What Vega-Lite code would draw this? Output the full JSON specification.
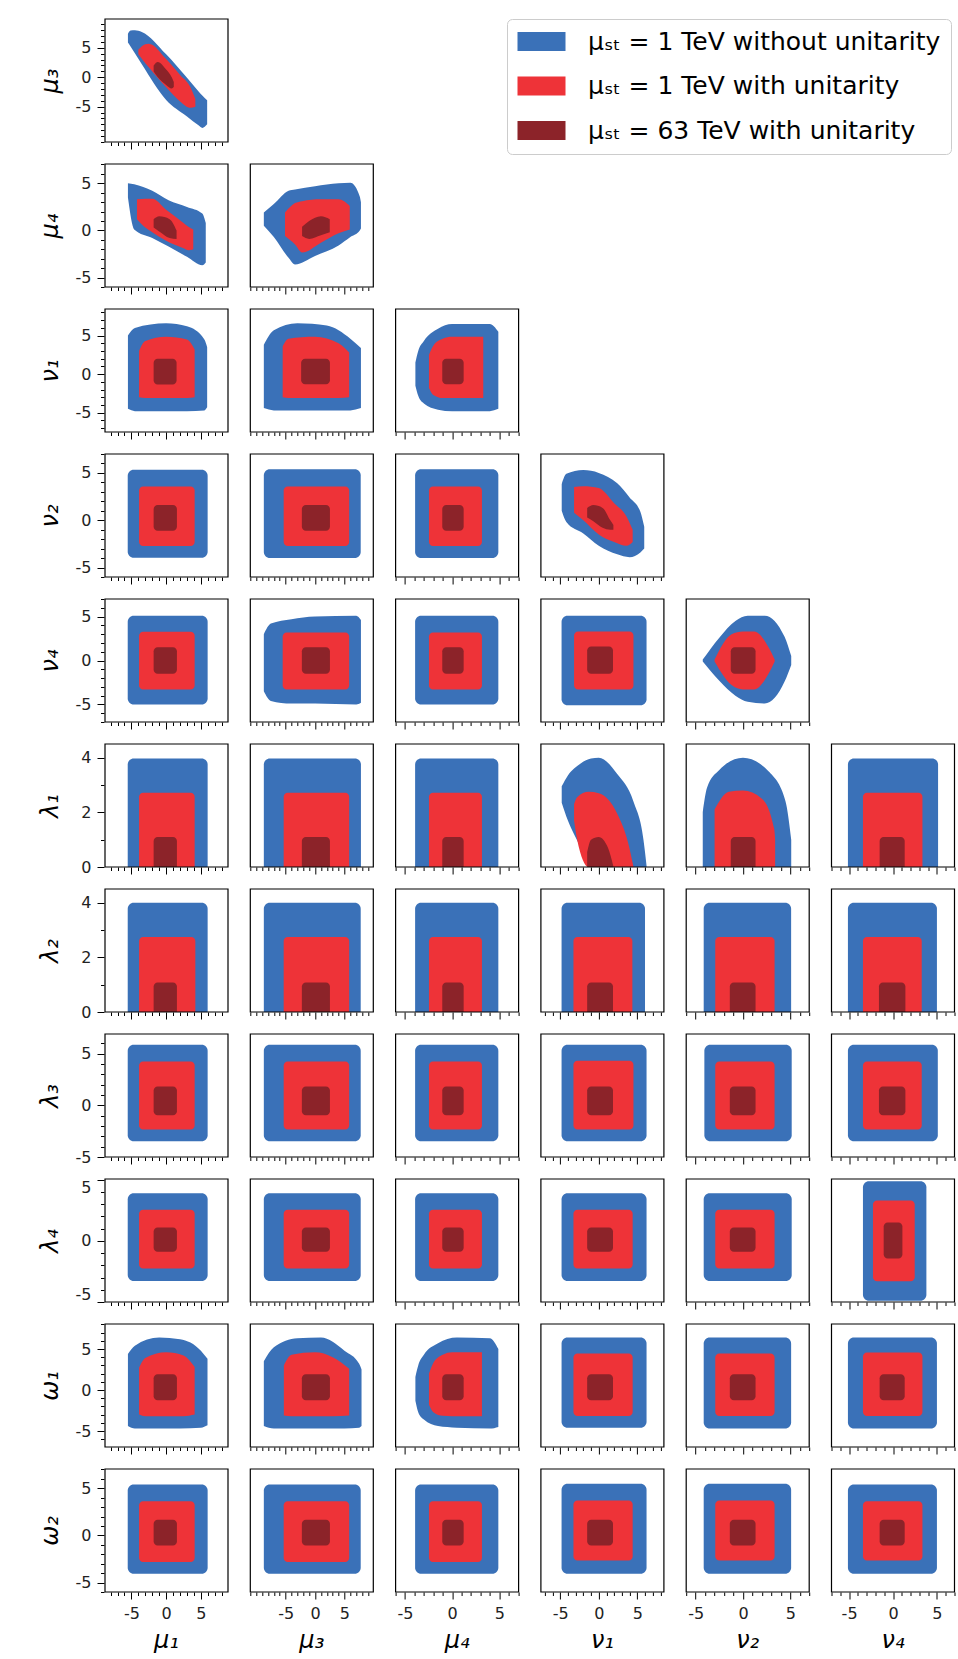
{
"$schema":"https://vega.github.io/schema/vega-lite/v6.json",
"background":"white",
"padding":{"left":38,"top":18,"right":2,"bottom":2},
"spacing":13,
"config":{
 "view":{"stroke":null},
 "font":"DejaVu Sans",
 "range":{"category":["#3a71b8","#ee3338","#8c2329"]},
 "area":{"interpolate":"monotone","opacity":1},
 "rect":{"opacity":1},
 "axis":{"domain":false,"grid":false,"tickColor":"#000","tickWidth":1,"labelColor":"#222","labelFont":"DejaVu Sans","labelPadding":6,"labelOverlap":false,"labelFlush":false,"titleFont":"DejaVu Sans","titleFontSize":24,"titleFontStyle":"italic","titleFontWeight":"normal","titleColor":"#000"},
 "header":{"labelFont":"DejaVu Sans","labelFontSize":24,"labelFontStyle":"italic","labelColor":"#000"}
},
"datasets":{
"vars":[
{"v":"μ₁","a":-8.8,"b":8.9},{"v":"μ₃","a":-11,"b":9.9},{"v":"μ₄","a":-6,"b":7.05},{"v":"ν₁","a":-7.5,"b":8.45},{"v":"ν₂","a":-6,"b":7},{"v":"ν₄","a":-7,"b":7},
{"v":"λ₁","a":0,"b":4.5},{"v":"λ₂","a":0,"b":4.5},{"v":"λ₃","a":-5,"b":6.9},{"v":"λ₄","a":-5,"b":5.05},{"v":"ω₁","a":-6.95,"b":8.05},{"v":"ω₂","a":-6,"b":7.05}
],
"d":[
{"k":"A","r":"μ₃","c":"μ₁","l":0,"x":-5.5,"lo":5.9,"hi":7.4},
{"k":"A","r":"μ₃","c":"μ₁","l":0,"x":-5.1,"lo":5.2,"hi":7.95},
{"k":"A","r":"μ₃","c":"μ₁","l":0,"x":-4.5,"lo":4.1,"hi":8},
{"k":"A","r":"μ₃","c":"μ₁","l":0,"x":-3.5,"lo":2.2,"hi":7.7},
{"k":"A","r":"μ₃","c":"μ₁","l":0,"x":0,"lo":-3.85,"hi":3.9},
{"k":"A","r":"μ₃","c":"μ₁","l":0,"x":3,"lo":-6.65,"hi":-0.1},
{"k":"A","r":"μ₃","c":"μ₁","l":0,"x":4.7,"lo":-8.2,"hi":-2.45},
{"k":"A","r":"μ₃","c":"μ₁","l":0,"x":5.2,"lo":-8.6,"hi":-3.1},
{"k":"A","r":"μ₃","c":"μ₁","l":0,"x":5.9,"lo":-8,"hi":-3.9},
{"k":"A","r":"μ₃","c":"μ₁","l":1,"x":-4,"lo":3.9,"hi":4.7},
{"k":"A","r":"μ₃","c":"μ₁","l":1,"x":-3,"lo":2.4,"hi":5.6},
{"k":"A","r":"μ₃","c":"μ₁","l":1,"x":-2.5,"lo":1.7,"hi":5.7},
{"k":"A","r":"μ₃","c":"μ₁","l":1,"x":0,"lo":-1.7,"hi":3.1},
{"k":"A","r":"μ₃","c":"μ₁","l":1,"x":2,"lo":-4.1,"hi":0.4},
{"k":"A","r":"μ₃","c":"μ₁","l":1,"x":3.5,"lo":-5.2,"hi":-1.7},
{"k":"A","r":"μ₃","c":"μ₁","l":1,"x":4.2,"lo":-5,"hi":-3.7},
{"k":"A","r":"μ₃","c":"μ₁","l":2,"x":-1.8,"lo":1,"hi":2},
{"k":"A","r":"μ₃","c":"μ₁","l":2,"x":-1.2,"lo":0,"hi":2.6},
{"k":"A","r":"μ₃","c":"μ₁","l":2,"x":0,"lo":-1.3,"hi":1.3},
{"k":"A","r":"μ₃","c":"μ₁","l":2,"x":0.8,"lo":-1.9,"hi":0},
{"k":"A","r":"μ₃","c":"μ₁","l":2,"x":1.1,"lo":-1.6,"hi":-0.8},

{"k":"A","r":"μ₄","c":"μ₁","l":0,"x":-5.5,"lo":3.5,"hi":5},
{"k":"A","r":"μ₄","c":"μ₁","l":0,"x":-4.6,"lo":0.1,"hi":4.9},
{"k":"A","r":"μ₄","c":"μ₁","l":0,"x":-2,"lo":-0.8,"hi":4.2},
{"k":"A","r":"μ₄","c":"μ₁","l":0,"x":0.35,"lo":-1.7,"hi":3.2},
{"k":"A","r":"μ₄","c":"μ₁","l":0,"x":3,"lo":-2.8,"hi":2.5},
{"k":"A","r":"μ₄","c":"μ₁","l":0,"x":5.2,"lo":-3.7,"hi":1.8},
{"k":"A","r":"μ₄","c":"μ₁","l":0,"x":5.7,"lo":-3.4,"hi":0.8},
{"k":"A","r":"μ₄","c":"μ₁","l":1,"x":-4.2,"lo":1.2,"hi":3.3},
{"k":"A","r":"μ₄","c":"μ₁","l":1,"x":-3,"lo":0.3,"hi":3.36},
{"k":"A","r":"μ₄","c":"μ₁","l":1,"x":-2,"lo":-0.2,"hi":3.36},
{"k":"A","r":"μ₄","c":"μ₁","l":1,"x":0,"lo":-1.1,"hi":2.2},
{"k":"A","r":"μ₄","c":"μ₁","l":1,"x":2.5,"lo":-1.9,"hi":0.8},
{"k":"A","r":"μ₄","c":"μ₁","l":1,"x":3.2,"lo":-2.1,"hi":0.4},
{"k":"A","r":"μ₄","c":"μ₁","l":1,"x":3.9,"lo":-2,"hi":0.1},
{"k":"A","r":"μ₄","c":"μ₁","l":2,"x":-1.8,"lo":0.3,"hi":1.2},
{"k":"A","r":"μ₄","c":"μ₁","l":2,"x":-1,"lo":-0.1,"hi":1.5},
{"k":"A","r":"μ₄","c":"μ₁","l":2,"x":0.5,"lo":-0.8,"hi":1.2},
{"k":"A","r":"μ₄","c":"μ₁","l":2,"x":1.5,"lo":-0.9,"hi":0},
{"k":"A","r":"μ₄","c":"μ₃","l":0,"x":-8.7,"lo":0.5,"hi":1.9},
{"k":"A","r":"μ₄","c":"μ₃","l":0,"x":-7,"lo":-0.7,"hi":2.8},
{"k":"A","r":"μ₄","c":"μ₃","l":0,"x":-4.5,"lo":-2.9,"hi":4.2},
{"k":"A","r":"μ₄","c":"μ₃","l":0,"x":-3.4,"lo":-3.6,"hi":4.35},
{"k":"A","r":"μ₄","c":"μ₃","l":0,"x":0,"lo":-2.7,"hi":4.7},
{"k":"A","r":"μ₄","c":"μ₃","l":0,"x":4,"lo":-1.6,"hi":5},
{"k":"A","r":"μ₄","c":"μ₃","l":0,"x":6,"lo":-0.7,"hi":5.05},
{"k":"A","r":"μ₄","c":"μ₃","l":0,"x":7.6,"lo":0,"hi":3.6},
{"k":"A","r":"μ₄","c":"μ₃","l":0,"x":7.8,"lo":0.2,"hi":3},
{"k":"A","r":"μ₄","c":"μ₃","l":1,"x":-5.1,"lo":-0.6,"hi":1.9},
{"k":"A","r":"μ₄","c":"μ₃","l":1,"x":-3.4,"lo":-1.5,"hi":2.9},
{"k":"A","r":"μ₄","c":"μ₃","l":1,"x":-2.2,"lo":-2.35,"hi":3.1},
{"k":"A","r":"μ₄","c":"μ₃","l":1,"x":1,"lo":-1.3,"hi":3.3},
{"k":"A","r":"μ₄","c":"μ₃","l":1,"x":4,"lo":-0.3,"hi":3.3},
{"k":"A","r":"μ₄","c":"μ₃","l":1,"x":5.9,"lo":0.1,"hi":2.6},
{"k":"A","r":"μ₄","c":"μ₃","l":2,"x":-2.2,"lo":-0.6,"hi":0.4},
{"k":"A","r":"μ₄","c":"μ₃","l":2,"x":-1,"lo":-0.9,"hi":1},
{"k":"A","r":"μ₄","c":"μ₃","l":2,"x":1,"lo":-0.5,"hi":1.5},
{"k":"A","r":"μ₄","c":"μ₃","l":2,"x":2.5,"lo":-0.2,"hi":1.2},

{"k":"A","r":"ν₁","c":"μ₁","l":0,"x":-5.5,"lo":-4.5,"hi":5},
{"k":"A","r":"ν₁","c":"μ₁","l":0,"x":-4.5,"lo":-4.8,"hi":6},
{"k":"A","r":"ν₁","c":"μ₁","l":0,"x":0,"lo":-4.8,"hi":6.6},
{"k":"A","r":"ν₁","c":"μ₁","l":0,"x":3,"lo":-4.8,"hi":6.2},
{"k":"A","r":"ν₁","c":"μ₁","l":0,"x":5.5,"lo":-4.7,"hi":4.5},
{"k":"A","r":"ν₁","c":"μ₁","l":0,"x":5.9,"lo":-4.3,"hi":3.5},
{"k":"A","r":"ν₁","c":"μ₁","l":1,"x":-3.9,"lo":-3,"hi":3},
{"k":"A","r":"ν₁","c":"μ₁","l":1,"x":-3,"lo":-3.1,"hi":4.3},
{"k":"A","r":"ν₁","c":"μ₁","l":1,"x":0,"lo":-3.1,"hi":4.85},
{"k":"A","r":"ν₁","c":"μ₁","l":1,"x":3,"lo":-3.1,"hi":4.5},
{"k":"A","r":"ν₁","c":"μ₁","l":1,"x":4.1,"lo":-3,"hi":3.2},
{"k":"R","r":"ν₁","c":"μ₁","l":2,"x0":-1.8,"x1":1.5,"y0":-1.35,"y1":2},
{"k":"A","r":"ν₁","c":"μ₃","l":0,"x":-8.7,"lo":-4.4,"hi":3.8},
{"k":"A","r":"ν₁","c":"μ₃","l":0,"x":-7,"lo":-4.7,"hi":5.7},
{"k":"A","r":"ν₁","c":"μ₃","l":0,"x":-3,"lo":-4.7,"hi":6.6},
{"k":"A","r":"ν₁","c":"μ₃","l":0,"x":2,"lo":-4.7,"hi":6.3},
{"k":"A","r":"ν₁","c":"μ₃","l":0,"x":6,"lo":-4.7,"hi":4.6},
{"k":"A","r":"ν₁","c":"μ₃","l":0,"x":7.8,"lo":-4.4,"hi":3.4},
{"k":"A","r":"ν₁","c":"μ₃","l":1,"x":-5.5,"lo":-3,"hi":3.6},
{"k":"A","r":"ν₁","c":"μ₃","l":1,"x":-4.5,"lo":-3.1,"hi":4.6},
{"k":"A","r":"ν₁","c":"μ₃","l":1,"x":0,"lo":-3.1,"hi":4.85},
{"k":"A","r":"ν₁","c":"μ₃","l":1,"x":4,"lo":-3.1,"hi":4},
{"k":"A","r":"ν₁","c":"μ₃","l":1,"x":5.8,"lo":-3,"hi":2.8},
{"k":"R","r":"ν₁","c":"μ₃","l":2,"x0":-2.36,"x1":2.53,"y0":-1.3,"y1":2},
{"k":"A","r":"ν₁","c":"μ₄","l":0,"x":-3.9,"lo":-1.5,"hi":1.5},
{"k":"A","r":"ν₁","c":"μ₄","l":0,"x":-3.6,"lo":-2.8,"hi":3},
{"k":"A","r":"ν₁","c":"μ₄","l":0,"x":-3,"lo":-3.8,"hi":4.3},
{"k":"A","r":"ν₁","c":"μ₄","l":0,"x":-1.5,"lo":-4.6,"hi":5.9},
{"k":"A","r":"ν₁","c":"μ₄","l":0,"x":0,"lo":-4.8,"hi":6.5},
{"k":"A","r":"ν₁","c":"μ₄","l":0,"x":4,"lo":-4.8,"hi":6.5},
{"k":"A","r":"ν₁","c":"μ₄","l":0,"x":4.9,"lo":-4.5,"hi":5.5},
{"k":"A","r":"ν₁","c":"μ₄","l":1,"x":-2.46,"lo":-1.8,"hi":2.5},
{"k":"A","r":"ν₁","c":"μ₄","l":1,"x":-2,"lo":-2.7,"hi":3.7},
{"k":"A","r":"ν₁","c":"μ₄","l":1,"x":-1,"lo":-3.1,"hi":4.6},
{"k":"A","r":"ν₁","c":"μ₄","l":1,"x":0,"lo":-3.1,"hi":4.85},
{"k":"A","r":"ν₁","c":"μ₄","l":1,"x":3.3,"lo":-3.1,"hi":4.85},
{"k":"R","r":"ν₁","c":"μ₄","l":2,"x0":-1.05,"x1":1.22,"y0":-1.3,"y1":2},

{"k":"R","r":"ν₂","c":"μ₁","l":0,"x0":-5.53,"x1":5.97,"y0":-3.96,"y1":5.33},
{"k":"R","r":"ν₂","c":"μ₁","l":1,"x0":-3.9,"x1":4.1,"y0":-2.72,"y1":3.56},
{"k":"R","r":"ν₂","c":"μ₁","l":2,"x0":-1.8,"x1":1.55,"y0":-1.1,"y1":1.62},
{"k":"R","r":"ν₂","c":"μ₃","l":0,"x0":-8.7,"x1":7.76,"y0":-4,"y1":5.4},
{"k":"R","r":"ν₂","c":"μ₃","l":1,"x0":-5.33,"x1":5.8,"y0":-2.72,"y1":3.56},
{"k":"R","r":"ν₂","c":"μ₃","l":2,"x0":-2.24,"x1":2.53,"y0":-1.1,"y1":1.62},
{"k":"R","r":"ν₂","c":"μ₄","l":0,"x0":-3.93,"x1":4.9,"y0":-4,"y1":5.4},
{"k":"R","r":"ν₂","c":"μ₄","l":1,"x0":-2.46,"x1":3.16,"y0":-2.72,"y1":3.56},
{"k":"R","r":"ν₂","c":"μ₄","l":2,"x0":-1.05,"x1":1.22,"y0":-1.1,"y1":1.62},
{"k":"A","r":"ν₂","c":"ν₁","l":0,"x":-4.8,"lo":1,"hi":3.8},
{"k":"A","r":"ν₂","c":"ν₁","l":0,"x":-4.2,"lo":-0.2,"hi":4.9},
{"k":"A","r":"ν₂","c":"ν₁","l":0,"x":-2,"lo":-1.4,"hi":5.3},
{"k":"A","r":"ν₂","c":"ν₁","l":0,"x":0,"lo":-2.7,"hi":5},
{"k":"A","r":"ν₂","c":"ν₁","l":0,"x":2.4,"lo":-3.6,"hi":3.9},
{"k":"A","r":"ν₂","c":"ν₁","l":0,"x":4,"lo":-3.9,"hi":2.4},
{"k":"A","r":"ν₂","c":"ν₁","l":0,"x":5.4,"lo":-3.4,"hi":0.9},
{"k":"A","r":"ν₂","c":"ν₁","l":0,"x":5.9,"lo":-3,"hi":-0.7},
{"k":"A","r":"ν₂","c":"ν₁","l":1,"x":-3.2,"lo":0.8,"hi":3.5},
{"k":"A","r":"ν₂","c":"ν₁","l":1,"x":-2,"lo":0,"hi":3.6},
{"k":"A","r":"ν₂","c":"ν₁","l":1,"x":0,"lo":-1.5,"hi":3.4},
{"k":"A","r":"ν₂","c":"ν₁","l":1,"x":2,"lo":-2.3,"hi":1.8},
{"k":"A","r":"ν₂","c":"ν₁","l":1,"x":3.6,"lo":-2.7,"hi":0.4},
{"k":"A","r":"ν₂","c":"ν₁","l":1,"x":4.4,"lo":-2.3,"hi":-1},
{"k":"A","r":"ν₂","c":"ν₁","l":2,"x":-1.5,"lo":0.3,"hi":1.3},
{"k":"A","r":"ν₂","c":"ν₁","l":2,"x":-0.7,"lo":-0.1,"hi":1.6},
{"k":"A","r":"ν₂","c":"ν₁","l":2,"x":0.5,"lo":-0.8,"hi":1.3},
{"k":"A","r":"ν₂","c":"ν₁","l":2,"x":1.5,"lo":-1,"hi":0},
{"k":"A","r":"ν₂","c":"ν₁","l":2,"x":1.9,"lo":-1,"hi":-0.5},

{"k":"R","r":"ν₄","c":"μ₁","l":0,"x0":-5.53,"x1":5.97,"y0":-5,"y1":5.1},
{"k":"R","r":"ν₄","c":"μ₁","l":1,"x0":-3.9,"x1":4.1,"y0":-3.3,"y1":3.28},
{"k":"R","r":"ν₄","c":"μ₁","l":2,"x0":-1.8,"x1":1.55,"y0":-1.5,"y1":1.5},
{"k":"A","r":"ν₄","c":"μ₃","l":0,"x":-8.7,"lo":-3.5,"hi":3},
{"k":"A","r":"ν₄","c":"μ₃","l":0,"x":-7.5,"lo":-4.6,"hi":4.2},
{"k":"A","r":"ν₄","c":"μ₃","l":0,"x":-4,"lo":-4.9,"hi":4.7},
{"k":"A","r":"ν₄","c":"μ₃","l":0,"x":0,"lo":-4.9,"hi":5},
{"k":"A","r":"ν₄","c":"μ₃","l":0,"x":7,"lo":-5,"hi":5.1},
{"k":"A","r":"ν₄","c":"μ₃","l":0,"x":7.8,"lo":-4.8,"hi":4.6},
{"k":"R","r":"ν₄","c":"μ₃","l":1,"x0":-5.5,"x1":5.8,"y0":-3.3,"y1":3.2},
{"k":"R","r":"ν₄","c":"μ₃","l":2,"x0":-2.24,"x1":2.53,"y0":-1.5,"y1":1.5},
{"k":"R","r":"ν₄","c":"μ₄","l":0,"x0":-3.93,"x1":4.9,"y0":-5,"y1":5.1},
{"k":"R","r":"ν₄","c":"μ₄","l":1,"x0":-2.46,"x1":3.16,"y0":-3.3,"y1":3.2},
{"k":"R","r":"ν₄","c":"μ₄","l":2,"x0":-1.05,"x1":1.22,"y0":-1.5,"y1":1.5},
{"k":"R","r":"ν₄","c":"ν₁","l":0,"x0":-4.82,"x1":6.2,"y0":-5.1,"y1":5.1},
{"k":"R","r":"ν₄","c":"ν₁","l":1,"x0":-3.2,"x1":4.5,"y0":-3.3,"y1":3.3},
{"k":"R","r":"ν₄","c":"ν₁","l":2,"x0":-1.5,"x1":1.85,"y0":-1.5,"y1":1.6},
{"k":"A","r":"ν₄","c":"ν₂","l":0,"x":-4.25,"lo":-0.1,"hi":0.1},
{"k":"A","r":"ν₄","c":"ν₂","l":0,"x":-2.5,"lo":-2.3,"hi":2.6},
{"k":"A","r":"ν₄","c":"ν₂","l":0,"x":-0.8,"lo":-4,"hi":4.5},
{"k":"A","r":"ν₄","c":"ν₂","l":0,"x":0.5,"lo":-4.7,"hi":5.1},
{"k":"A","r":"ν₄","c":"ν₂","l":0,"x":2.3,"lo":-4.9,"hi":5.1},
{"k":"A","r":"ν₄","c":"ν₂","l":0,"x":4.4,"lo":-2.4,"hi":2.7},
{"k":"A","r":"ν₄","c":"ν₂","l":0,"x":5.1,"lo":-0.5,"hi":0.5},
{"k":"A","r":"ν₄","c":"ν₂","l":1,"x":-3,"lo":-0.1,"hi":0.1},
{"k":"A","r":"ν₄","c":"ν₂","l":1,"x":-1.2,"lo":-2.8,"hi":3},
{"k":"A","r":"ν₄","c":"ν₂","l":1,"x":0,"lo":-3.3,"hi":3.3},
{"k":"A","r":"ν₄","c":"ν₂","l":1,"x":1.2,"lo":-3.3,"hi":3.3},
{"k":"A","r":"ν₄","c":"ν₂","l":1,"x":2.7,"lo":-1.5,"hi":1.5},
{"k":"A","r":"ν₄","c":"ν₂","l":1,"x":3.35,"lo":-0.1,"hi":0.1},
{"k":"R","r":"ν₄","c":"ν₂","l":2,"x0":-1.29,"x1":1.33,"y0":-1.5,"y1":1.5},

{"k":"R","r":"λ₁","c":"μ₁","l":0,"x0":-5.53,"x1":5.97,"y0":0,"y1":3.97},
{"k":"R","r":"λ₁","c":"μ₁","l":1,"x0":-3.9,"x1":4.1,"y0":0,"y1":2.72},
{"k":"R","r":"λ₁","c":"μ₁","l":2,"x0":-1.8,"x1":1.55,"y0":0,"y1":1.1},
{"k":"R","r":"λ₁","c":"μ₃","l":0,"x0":-8.7,"x1":7.8,"y0":0,"y1":3.97},
{"k":"R","r":"λ₁","c":"μ₃","l":1,"x0":-5.33,"x1":5.8,"y0":0,"y1":2.72},
{"k":"R","r":"λ₁","c":"μ₃","l":2,"x0":-2.24,"x1":2.53,"y0":0,"y1":1.1},
{"k":"R","r":"λ₁","c":"μ₄","l":0,"x0":-3.93,"x1":4.9,"y0":0,"y1":3.97},
{"k":"R","r":"λ₁","c":"μ₄","l":1,"x0":-2.46,"x1":3.16,"y0":0,"y1":2.72},
{"k":"R","r":"λ₁","c":"μ₄","l":2,"x0":-1.05,"x1":1.22,"y0":0,"y1":1.1},
{"k":"A","r":"λ₁","c":"ν₁","l":0,"x":-4.8,"lo":2.35,"hi":2.95},
{"k":"A","r":"λ₁","c":"ν₁","l":0,"x":-4,"lo":1.7,"hi":3.35},
{"k":"A","r":"λ₁","c":"ν₁","l":0,"x":-3.2,"lo":1.2,"hi":3.6},
{"k":"A","r":"λ₁","c":"ν₁","l":0,"x":-2.3,"lo":0.7,"hi":3.8},
{"k":"A","r":"λ₁","c":"ν₁","l":0,"x":-1,"lo":0,"hi":3.97},
{"k":"A","r":"λ₁","c":"ν₁","l":0,"x":0,"lo":0,"hi":4},
{"k":"A","r":"λ₁","c":"ν₁","l":0,"x":2.4,"lo":0,"hi":3.4},
{"k":"A","r":"λ₁","c":"ν₁","l":0,"x":4.5,"lo":0,"hi":2.4},
{"k":"A","r":"λ₁","c":"ν₁","l":0,"x":5.8,"lo":0,"hi":1},
{"k":"A","r":"λ₁","c":"ν₁","l":0,"x":6.2,"lo":0,"hi":0.05},
{"k":"A","r":"λ₁","c":"ν₁","l":1,"x":-3.2,"lo":1.7,"hi":2.3},
{"k":"A","r":"λ₁","c":"ν₁","l":1,"x":-2.8,"lo":1,"hi":2.55},
{"k":"A","r":"λ₁","c":"ν₁","l":1,"x":-1.3,"lo":0,"hi":2.75},
{"k":"A","r":"λ₁","c":"ν₁","l":1,"x":0,"lo":0,"hi":2.7},
{"k":"A","r":"λ₁","c":"ν₁","l":1,"x":2.4,"lo":0,"hi":1.95},
{"k":"A","r":"λ₁","c":"ν₁","l":1,"x":3.8,"lo":0,"hi":0.9},
{"k":"A","r":"λ₁","c":"ν₁","l":1,"x":4.5,"lo":0,"hi":0.02},
{"k":"A","r":"λ₁","c":"ν₁","l":2,"x":-1.5,"lo":0,"hi":0.55},
{"k":"A","r":"λ₁","c":"ν₁","l":2,"x":-1,"lo":0,"hi":1},
{"k":"A","r":"λ₁","c":"ν₁","l":2,"x":0,"lo":0,"hi":1.1},
{"k":"A","r":"λ₁","c":"ν₁","l":2,"x":1.2,"lo":0,"hi":0.7},
{"k":"A","r":"λ₁","c":"ν₁","l":2,"x":1.9,"lo":0,"hi":0.02},
{"k":"A","r":"λ₁","c":"ν₂","l":0,"x":-4.25,"lo":0,"hi":2},
{"k":"A","r":"λ₁","c":"ν₂","l":0,"x":-3.8,"lo":0,"hi":2.9},
{"k":"A","r":"λ₁","c":"ν₂","l":0,"x":-2.5,"lo":0,"hi":3.55},
{"k":"A","r":"λ₁","c":"ν₂","l":0,"x":0,"lo":0,"hi":4},
{"k":"A","r":"λ₁","c":"ν₂","l":0,"x":2.7,"lo":0,"hi":3.5},
{"k":"A","r":"λ₁","c":"ν₂","l":0,"x":4.5,"lo":0,"hi":2.4},
{"k":"A","r":"λ₁","c":"ν₂","l":0,"x":5.1,"lo":0,"hi":1},
{"k":"A","r":"λ₁","c":"ν₂","l":1,"x":-3,"lo":0,"hi":2.1},
{"k":"A","r":"λ₁","c":"ν₂","l":1,"x":-1.5,"lo":0,"hi":2.75},
{"k":"A","r":"λ₁","c":"ν₂","l":1,"x":0,"lo":0,"hi":2.8},
{"k":"A","r":"λ₁","c":"ν₂","l":1,"x":2,"lo":0,"hi":2.5},
{"k":"A","r":"λ₁","c":"ν₂","l":1,"x":3.3,"lo":0,"hi":1.4},
{"k":"A","r":"λ₁","c":"ν₂","l":1,"x":3.4,"lo":0,"hi":1},
{"k":"R","r":"λ₁","c":"ν₂","l":2,"x0":-1.29,"x1":1.33,"y0":0,"y1":1.1},
{"k":"R","r":"λ₁","c":"ν₄","l":0,"x0":-5.13,"x1":5.13,"y0":0,"y1":3.97},
{"k":"R","r":"λ₁","c":"ν₄","l":1,"x0":-3.42,"x1":3.35,"y0":0,"y1":2.72},
{"k":"R","r":"λ₁","c":"ν₄","l":2,"x0":-1.52,"x1":1.33,"y0":0,"y1":1.1},

{"k":"R","r":"λ₂","c":"μ₁","l":0,"x0":-5.53,"x1":5.97,"y0":0,"y1":4},
{"k":"R","r":"λ₂","c":"μ₁","l":1,"x0":-3.9,"x1":4.2,"y0":0,"y1":2.74},
{"k":"R","r":"λ₂","c":"μ₁","l":2,"x0":-1.8,"x1":1.55,"y0":0,"y1":1.08},
{"k":"R","r":"λ₂","c":"μ₃","l":0,"x0":-8.7,"x1":7.76,"y0":0,"y1":4},
{"k":"R","r":"λ₂","c":"μ₃","l":1,"x0":-5.33,"x1":5.8,"y0":0,"y1":2.74},
{"k":"R","r":"λ₂","c":"μ₃","l":2,"x0":-2.24,"x1":2.53,"y0":0,"y1":1.08},
{"k":"R","r":"λ₂","c":"μ₄","l":0,"x0":-3.93,"x1":4.9,"y0":0,"y1":4},
{"k":"R","r":"λ₂","c":"μ₄","l":1,"x0":-2.46,"x1":3.16,"y0":0,"y1":2.74},
{"k":"R","r":"λ₂","c":"μ₄","l":2,"x0":-1.05,"x1":1.22,"y0":0,"y1":1.08},
{"k":"R","r":"λ₂","c":"ν₁","l":0,"x0":-4.82,"x1":6,"y0":0,"y1":4},
{"k":"R","r":"λ₂","c":"ν₁","l":1,"x0":-3.28,"x1":4.36,"y0":0,"y1":2.74},
{"k":"R","r":"λ₂","c":"ν₁","l":2,"x0":-1.5,"x1":1.85,"y0":0,"y1":1.08},
{"k":"R","r":"λ₂","c":"ν₂","l":0,"x0":-4.15,"x1":5.09,"y0":0,"y1":4},
{"k":"R","r":"λ₂","c":"ν₂","l":1,"x0":-2.93,"x1":3.34,"y0":0,"y1":2.74},
{"k":"R","r":"λ₂","c":"ν₂","l":2,"x0":-1.39,"x1":1.33,"y0":0,"y1":1.08},
{"k":"R","r":"λ₂","c":"ν₄","l":0,"x0":-5.13,"x1":5,"y0":0,"y1":4},
{"k":"R","r":"λ₂","c":"ν₄","l":1,"x0":-3.42,"x1":3.27,"y0":0,"y1":2.74},
{"k":"R","r":"λ₂","c":"ν₄","l":2,"x0":-1.6,"x1":1.41,"y0":0,"y1":1.08},

{"k":"R","r":"λ₃","c":"μ₁","l":0,"x0":-5.53,"x1":5.97,"y0":-3.48,"y1":5.87},
{"k":"R","r":"λ₃","c":"μ₁","l":1,"x0":-3.9,"x1":4.1,"y0":-2.34,"y1":4.25},
{"k":"R","r":"λ₃","c":"μ₁","l":2,"x0":-1.8,"x1":1.55,"y0":-0.95,"y1":1.81},
{"k":"R","r":"λ₃","c":"μ₃","l":0,"x0":-8.7,"x1":7.76,"y0":-3.48,"y1":5.87},
{"k":"R","r":"λ₃","c":"μ₃","l":1,"x0":-5.33,"x1":5.8,"y0":-2.34,"y1":4.25},
{"k":"R","r":"λ₃","c":"μ₃","l":2,"x0":-2.24,"x1":2.53,"y0":-0.95,"y1":1.81},
{"k":"R","r":"λ₃","c":"μ₄","l":0,"x0":-3.93,"x1":4.9,"y0":-3.48,"y1":5.87},
{"k":"R","r":"λ₃","c":"μ₄","l":1,"x0":-2.46,"x1":3.16,"y0":-2.34,"y1":4.25},
{"k":"R","r":"λ₃","c":"μ₄","l":2,"x0":-1.05,"x1":1.22,"y0":-0.95,"y1":1.81},
{"k":"R","r":"λ₃","c":"ν₁","l":0,"x0":-4.82,"x1":6.2,"y0":-3.48,"y1":5.87},
{"k":"R","r":"λ₃","c":"ν₁","l":1,"x0":-3.28,"x1":4.5,"y0":-2.34,"y1":4.3},
{"k":"R","r":"λ₃","c":"ν₁","l":2,"x0":-1.5,"x1":1.85,"y0":-0.95,"y1":1.81},
{"k":"R","r":"λ₃","c":"ν₂","l":0,"x0":-4.08,"x1":5.15,"y0":-3.48,"y1":5.87},
{"k":"R","r":"λ₃","c":"ν₂","l":1,"x0":-2.93,"x1":3.34,"y0":-2.34,"y1":4.25},
{"k":"R","r":"λ₃","c":"ν₂","l":2,"x0":-1.39,"x1":1.33,"y0":-0.95,"y1":1.81},
{"k":"R","r":"λ₃","c":"ν₄","l":0,"x0":-5.13,"x1":5.1,"y0":-3.48,"y1":5.87},
{"k":"R","r":"λ₃","c":"ν₄","l":1,"x0":-3.42,"x1":3.27,"y0":-2.34,"y1":4.25},
{"k":"R","r":"λ₃","c":"ν₄","l":2,"x0":-1.6,"x1":1.41,"y0":-0.95,"y1":1.81},

{"k":"R","r":"λ₄","c":"μ₁","l":0,"x0":-5.53,"x1":5.97,"y0":-3.28,"y1":3.88},
{"k":"R","r":"λ₄","c":"μ₁","l":1,"x0":-3.9,"x1":4.1,"y0":-2.27,"y1":2.54},
{"k":"R","r":"λ₄","c":"μ₁","l":2,"x0":-1.8,"x1":1.55,"y0":-0.9,"y1":1.09},
{"k":"R","r":"λ₄","c":"μ₃","l":0,"x0":-8.7,"x1":7.76,"y0":-3.28,"y1":3.88},
{"k":"R","r":"λ₄","c":"μ₃","l":1,"x0":-5.33,"x1":5.8,"y0":-2.27,"y1":2.54},
{"k":"R","r":"λ₄","c":"μ₃","l":2,"x0":-2.24,"x1":2.53,"y0":-0.9,"y1":1.09},
{"k":"R","r":"λ₄","c":"μ₄","l":0,"x0":-3.93,"x1":4.9,"y0":-3.28,"y1":3.88},
{"k":"R","r":"λ₄","c":"μ₄","l":1,"x0":-2.46,"x1":3.16,"y0":-2.27,"y1":2.54},
{"k":"R","r":"λ₄","c":"μ₄","l":2,"x0":-1.05,"x1":1.22,"y0":-0.9,"y1":1.09},
{"k":"R","r":"λ₄","c":"ν₁","l":0,"x0":-4.82,"x1":6.2,"y0":-3.28,"y1":3.88},
{"k":"R","r":"λ₄","c":"ν₁","l":1,"x0":-3.28,"x1":4.4,"y0":-2.27,"y1":2.54},
{"k":"R","r":"λ₄","c":"ν₁","l":2,"x0":-1.5,"x1":1.85,"y0":-0.9,"y1":1.09},
{"k":"R","r":"λ₄","c":"ν₂","l":0,"x0":-4.15,"x1":5.15,"y0":-3.28,"y1":3.88},
{"k":"R","r":"λ₄","c":"ν₂","l":1,"x0":-2.93,"x1":3.34,"y0":-2.27,"y1":2.54},
{"k":"R","r":"λ₄","c":"ν₂","l":2,"x0":-1.39,"x1":1.33,"y0":-0.9,"y1":1.09},
{"k":"R","r":"λ₄","c":"ν₄","l":0,"x0":-3.42,"x1":3.8,"y0":-4.9,"y1":4.86},
{"k":"R","r":"λ₄","c":"ν₄","l":1,"x0":-2.28,"x1":2.47,"y0":-3.3,"y1":3.3},
{"k":"R","r":"λ₄","c":"ν₄","l":2,"x0":-1.06,"x1":1.07,"y0":-1.44,"y1":1.5},

{"k":"A","r":"ω₁","c":"μ₁","l":0,"x":-5.5,"lo":-4.4,"hi":4.4},
{"k":"A","r":"ω₁","c":"μ₁","l":0,"x":-4.5,"lo":-4.7,"hi":5.4},
{"k":"A","r":"ω₁","c":"μ₁","l":0,"x":-1,"lo":-4.7,"hi":6.4},
{"k":"A","r":"ω₁","c":"μ₁","l":0,"x":2,"lo":-4.7,"hi":6.2},
{"k":"A","r":"ω₁","c":"μ₁","l":0,"x":5,"lo":-4.6,"hi":4.8},
{"k":"A","r":"ω₁","c":"μ₁","l":0,"x":5.95,"lo":-4.3,"hi":3.8},
{"k":"A","r":"ω₁","c":"μ₁","l":1,"x":-3.9,"lo":-3,"hi":2.7},
{"k":"A","r":"ω₁","c":"μ₁","l":1,"x":-3,"lo":-3.2,"hi":3.9},
{"k":"A","r":"ω₁","c":"μ₁","l":1,"x":0,"lo":-3.2,"hi":4.6},
{"k":"A","r":"ω₁","c":"μ₁","l":1,"x":2.5,"lo":-3.2,"hi":4.2},
{"k":"A","r":"ω₁","c":"μ₁","l":1,"x":4.1,"lo":-3,"hi":2.8},
{"k":"R","r":"ω₁","c":"μ₁","l":2,"x0":-1.8,"x1":1.55,"y0":-1.26,"y1":1.92},
{"k":"A","r":"ω₁","c":"μ₃","l":0,"x":-8.7,"lo":-4.4,"hi":3.5},
{"k":"A","r":"ω₁","c":"μ₃","l":0,"x":-7,"lo":-4.7,"hi":5.2},
{"k":"A","r":"ω₁","c":"μ₃","l":0,"x":-3,"lo":-4.7,"hi":6.3},
{"k":"A","r":"ω₁","c":"μ₃","l":0,"x":1,"lo":-4.7,"hi":6.4},
{"k":"A","r":"ω₁","c":"μ₃","l":0,"x":5,"lo":-4.7,"hi":4.8},
{"k":"A","r":"ω₁","c":"μ₃","l":0,"x":7.5,"lo":-4.6,"hi":3.2},
{"k":"A","r":"ω₁","c":"μ₃","l":0,"x":7.9,"lo":-4.4,"hi":2.5},
{"k":"A","r":"ω₁","c":"μ₃","l":1,"x":-5.3,"lo":-3.1,"hi":3},
{"k":"A","r":"ω₁","c":"μ₃","l":1,"x":-4,"lo":-3.2,"hi":4.3},
{"k":"A","r":"ω₁","c":"μ₃","l":1,"x":0,"lo":-3.2,"hi":4.6},
{"k":"A","r":"ω₁","c":"μ₃","l":1,"x":3,"lo":-3.2,"hi":4},
{"k":"A","r":"ω₁","c":"μ₃","l":1,"x":5.8,"lo":-3.1,"hi":2.6},
{"k":"R","r":"ω₁","c":"μ₃","l":2,"x0":-2.24,"x1":2.53,"y0":-1.26,"y1":1.92},
{"k":"A","r":"ω₁","c":"μ₄","l":0,"x":-3.9,"lo":-1.3,"hi":1.6},
{"k":"A","r":"ω₁","c":"μ₄","l":0,"x":-3.6,"lo":-2.7,"hi":3},
{"k":"A","r":"ω₁","c":"μ₄","l":0,"x":-3,"lo":-3.6,"hi":4.3},
{"k":"A","r":"ω₁","c":"μ₄","l":0,"x":-1.5,"lo":-4.4,"hi":5.7},
{"k":"A","r":"ω₁","c":"μ₄","l":0,"x":0.5,"lo":-4.6,"hi":6.4},
{"k":"A","r":"ω₁","c":"μ₄","l":0,"x":4,"lo":-4.7,"hi":6.3},
{"k":"A","r":"ω₁","c":"μ₄","l":0,"x":4.9,"lo":-4.5,"hi":5},
{"k":"A","r":"ω₁","c":"μ₄","l":1,"x":-2.46,"lo":-1.8,"hi":2},
{"k":"A","r":"ω₁","c":"μ₄","l":1,"x":-2,"lo":-2.7,"hi":3.3},
{"k":"A","r":"ω₁","c":"μ₄","l":1,"x":-1,"lo":-3.15,"hi":4.3},
{"k":"A","r":"ω₁","c":"μ₄","l":1,"x":0,"lo":-3.2,"hi":4.6},
{"k":"A","r":"ω₁","c":"μ₄","l":1,"x":3.16,"lo":-3.2,"hi":4.6},
{"k":"R","r":"ω₁","c":"μ₄","l":2,"x0":-1.05,"x1":1.22,"y0":-1.26,"y1":1.92},
{"k":"R","r":"ω₁","c":"ν₁","l":0,"x0":-4.82,"x1":6.2,"y0":-4.6,"y1":6.4},
{"k":"R","r":"ω₁","c":"ν₁","l":1,"x0":-3.28,"x1":4.4,"y0":-3.18,"y1":4.44},
{"k":"R","r":"ω₁","c":"ν₁","l":2,"x0":-1.5,"x1":1.85,"y0":-1.26,"y1":1.92},
{"k":"R","r":"ω₁","c":"ν₂","l":0,"x0":-4.15,"x1":5.09,"y0":-4.69,"y1":6.4},
{"k":"R","r":"ω₁","c":"ν₂","l":1,"x0":-2.93,"x1":3.34,"y0":-3.18,"y1":4.44},
{"k":"R","r":"ω₁","c":"ν₂","l":2,"x0":-1.39,"x1":1.33,"y0":-1.26,"y1":1.92},
{"k":"R","r":"ω₁","c":"ν₄","l":0,"x0":-5.13,"x1":5,"y0":-4.69,"y1":6.4},
{"k":"R","r":"ω₁","c":"ν₄","l":1,"x0":-3.42,"x1":3.35,"y0":-3.18,"y1":4.57},
{"k":"R","r":"ω₁","c":"ν₄","l":2,"x0":-1.52,"x1":1.33,"y0":-1.26,"y1":1.92},

{"k":"R","r":"ω₂","c":"μ₁","l":0,"x0":-5.53,"x1":5.97,"y0":-4.06,"y1":5.41},
{"k":"R","r":"ω₂","c":"μ₁","l":1,"x0":-3.9,"x1":4.1,"y0":-2.83,"y1":3.64},
{"k":"R","r":"ω₂","c":"μ₁","l":2,"x0":-1.8,"x1":1.55,"y0":-1.06,"y1":1.66},
{"k":"R","r":"ω₂","c":"μ₃","l":0,"x0":-8.7,"x1":7.76,"y0":-4.06,"y1":5.41},
{"k":"R","r":"ω₂","c":"μ₃","l":1,"x0":-5.33,"x1":5.8,"y0":-2.83,"y1":3.64},
{"k":"R","r":"ω₂","c":"μ₃","l":2,"x0":-2.24,"x1":2.53,"y0":-1.06,"y1":1.66},
{"k":"R","r":"ω₂","c":"μ₄","l":0,"x0":-3.93,"x1":4.9,"y0":-4.06,"y1":5.41},
{"k":"R","r":"ω₂","c":"μ₄","l":1,"x0":-2.46,"x1":3.16,"y0":-2.83,"y1":3.64},
{"k":"R","r":"ω₂","c":"μ₄","l":2,"x0":-1.05,"x1":1.22,"y0":-1.06,"y1":1.66},
{"k":"R","r":"ω₂","c":"ν₁","l":0,"x0":-4.82,"x1":6.2,"y0":-4.06,"y1":5.48},
{"k":"R","r":"ω₂","c":"ν₁","l":1,"x0":-3.28,"x1":4.4,"y0":-2.65,"y1":3.71},
{"k":"R","r":"ω₂","c":"ν₁","l":2,"x0":-1.5,"x1":1.85,"y0":-1.06,"y1":1.66},
{"k":"R","r":"ω₂","c":"ν₂","l":0,"x0":-4.15,"x1":5.09,"y0":-4.06,"y1":5.48},
{"k":"R","r":"ω₂","c":"ν₂","l":1,"x0":-2.93,"x1":3.34,"y0":-2.65,"y1":3.71},
{"k":"R","r":"ω₂","c":"ν₂","l":2,"x0":-1.39,"x1":1.33,"y0":-1.06,"y1":1.66},
{"k":"R","r":"ω₂","c":"ν₄","l":0,"x0":-5.13,"x1":5,"y0":-4.06,"y1":5.4},
{"k":"R","r":"ω₂","c":"ν₄","l":1,"x0":-3.42,"x1":3.35,"y0":-2.65,"y1":3.64},
{"k":"R","r":"ω₂","c":"ν₄","l":2,"x0":-1.52,"x1":1.33,"y0":-1.06,"y1":1.66}
]
},
"vconcat":[
{"data":{"name":"d"},"transform":[{"filter":"datum.r==='μ₃'"},{"lookup":"c","from":{"data":{"name":"vars"},"key":"v","fields":["a","b"]},"as":["fx0","fx1"]},{"lookup":"r","from":{"data":{"name":"vars"},"key":"v","fields":["a","b"]},"as":["fy0","fy1"]}],
 "facet":{"column":{"field":"c","title":null,"sort":["μ₁","μ₃","μ₄","ν₁","ν₂","ν₄"],"header":{"labels":false}}},"spacing":20.3,"resolve":{"scale":{"x":"independent"}},
 "spec":{"width":123,"height":123,"layer":[
  {"transform":[{"filter":"datum.k==='A'&&datum.l===0"}],"mark":"area","encoding":{
   "x":{"field":"x","type":"quantitative","scale":{"zero":false,"nice":false},"axis":{"title":null,"tickCount":100,"values":[-11,-10,-9,-8,-7,-6,-5,-4,-3,-2,-1,0,1,2,3,4,5,6,7,8,9,10],"labels":false,"tickSize":{"condition":{"test":"datum.value===0||abs(datum.value)===5","value":7},"value":3.5}}},
   "y":{"field":"lo","type":"quantitative","scale":{"zero":false,"nice":false},"axis":{"title":"μ₃","titleX":-42,"tickCount":100,"values":[-11,-10,-9,-8,-7,-6,-5,-4,-3,-2,-1,0,1,2,3,4,5,6,7,8,9,10],"labelExpr":"datum.value===0||abs(datum.value)===5?''+datum.value:''","labelFontSize":{"condition":{"test":"datum.value===0||abs(datum.value)===5","value":16},"value":0},"tickSize":{"condition":{"test":"datum.value===0||abs(datum.value)===5","value":7},"value":3.5}}},
   "y2":{"field":"hi"},
   "color":{"field":"l","type":"nominal","legend":{"orient":"none","legendX":402,"legendY":0,"title":null,"labelExpr":"datum.value==0?'μₛₜ = 1 TeV without unitarity':datum.value==1?'μₛₜ = 1 TeV with unitarity':'μₛₜ = 63 TeV with unitarity'","labelFont":"DejaVu Sans","labelFontSize":25,"labelColor":"#000","labelLimit":600,"symbolType":"M-2,-0.8H2V0.8H-2Z","symbolSize":576,"symbolStrokeWidth":0,"symbolOpacity":1,"symbolOffset":12,"labelOffset":34,"rowPadding":18.5,"padding":10,"strokeColor":"#cccccc","cornerRadius":5,"fillColor":"#ffffff"}}}},
  {"transform":[{"filter":"datum.k==='R'&&datum.l===0"}],"mark":{"type":"rect","cornerRadius":6},"encoding":{"x":{"field":"x0","type":"quantitative"},"x2":{"field":"x1"},"y":{"field":"y0","type":"quantitative"},"y2":{"field":"y1"},"color":{"field":"l","type":"nominal"}}},
  {"transform":[{"filter":"datum.k==='A'&&datum.l===1"}],"mark":"area","encoding":{"x":{"field":"x","type":"quantitative"},"y":{"field":"lo","type":"quantitative"},"y2":{"field":"hi"},"color":{"field":"l","type":"nominal"}}},
  {"transform":[{"filter":"datum.k==='A'&&datum.l===2"}],"mark":"area","encoding":{"x":{"field":"x","type":"quantitative"},"y":{"field":"lo","type":"quantitative"},"y2":{"field":"hi"},"color":{"field":"l","type":"nominal"}}},
  {"transform":[{"filter":"datum.k==='R'&&datum.l>0"}],"mark":{"type":"rect","cornerRadius":4},"encoding":{"x":{"field":"x0","type":"quantitative"},"x2":{"field":"x1"},"y":{"field":"y0","type":"quantitative"},"y2":{"field":"y1"},"color":{"field":"l","type":"nominal"}}},
  {"transform":[{"aggregate":[{"op":"count","as":"n"}],"groupby":["c","fx0","fx1","fy0","fy1"]}],"mark":{"type":"rect","filled":false,"stroke":"#000","strokeWidth":1.2,"fillOpacity":0},"encoding":{"x":{"field":"fx0","type":"quantitative","scale":{"zero":false,"nice":false}},"x2":{"field":"fx1"},"y":{"field":"fy0","type":"quantitative","scale":{"zero":false,"nice":false}},"y2":{"field":"fy1"}}}
 ]}},
{"data":{"name":"d"},"transform":[{"filter":"datum.r==='μ₄'"},{"lookup":"c","from":{"data":{"name":"vars"},"key":"v","fields":["a","b"]},"as":["fx0","fx1"]},{"lookup":"r","from":{"data":{"name":"vars"},"key":"v","fields":["a","b"]},"as":["fy0","fy1"]}],
 "facet":{"column":{"field":"c","title":null,"sort":["μ₁","μ₃","μ₄","ν₁","ν₂","ν₄"],"header":{"labels":false}}},"spacing":20.3,"resolve":{"scale":{"x":"independent"}},
 "spec":{"width":123,"height":123,"layer":[
  {"transform":[{"filter":"datum.k==='A'&&datum.l===0"}],"mark":"area","encoding":{
   "x":{"field":"x","type":"quantitative","scale":{"zero":false,"nice":false},"axis":{"title":null,"tickCount":100,"values":[-11,-10,-9,-8,-7,-6,-5,-4,-3,-2,-1,0,1,2,3,4,5,6,7,8,9,10],"labels":false,"tickSize":{"condition":{"test":"datum.value===0||abs(datum.value)===5","value":7},"value":3.5}}},
   "y":{"field":"lo","type":"quantitative","scale":{"zero":false,"nice":false},"axis":{"title":"μ₄","titleX":-42,"tickCount":100,"values":[-11,-10,-9,-8,-7,-6,-5,-4,-3,-2,-1,0,1,2,3,4,5,6,7,8,9,10],"labelExpr":"datum.value===0||abs(datum.value)===5?''+datum.value:''","labelFontSize":{"condition":{"test":"datum.value===0||abs(datum.value)===5","value":16},"value":0},"tickSize":{"condition":{"test":"datum.value===0||abs(datum.value)===5","value":7},"value":3.5}}},
   "y2":{"field":"hi"},"color":{"field":"l","type":"nominal"}}},
  {"transform":[{"filter":"datum.k==='R'&&datum.l===0"}],"mark":{"type":"rect","cornerRadius":6},"encoding":{"x":{"field":"x0","type":"quantitative"},"x2":{"field":"x1"},"y":{"field":"y0","type":"quantitative"},"y2":{"field":"y1"},"color":{"field":"l","type":"nominal"}}},
  {"transform":[{"filter":"datum.k==='A'&&datum.l===1"}],"mark":"area","encoding":{"x":{"field":"x","type":"quantitative"},"y":{"field":"lo","type":"quantitative"},"y2":{"field":"hi"},"color":{"field":"l","type":"nominal"}}},
  {"transform":[{"filter":"datum.k==='A'&&datum.l===2"}],"mark":"area","encoding":{"x":{"field":"x","type":"quantitative"},"y":{"field":"lo","type":"quantitative"},"y2":{"field":"hi"},"color":{"field":"l","type":"nominal"}}},
  {"transform":[{"filter":"datum.k==='R'&&datum.l>0"}],"mark":{"type":"rect","cornerRadius":4},"encoding":{"x":{"field":"x0","type":"quantitative"},"x2":{"field":"x1"},"y":{"field":"y0","type":"quantitative"},"y2":{"field":"y1"},"color":{"field":"l","type":"nominal"}}},
  {"transform":[{"aggregate":[{"op":"count","as":"n"}],"groupby":["c","fx0","fx1","fy0","fy1"]}],"mark":{"type":"rect","filled":false,"stroke":"#000","strokeWidth":1.2,"fillOpacity":0},"encoding":{"x":{"field":"fx0","type":"quantitative","scale":{"zero":false,"nice":false}},"x2":{"field":"fx1"},"y":{"field":"fy0","type":"quantitative","scale":{"zero":false,"nice":false}},"y2":{"field":"fy1"}}}
 ]}},
{"data":{"name":"d"},"transform":[{"filter":"datum.r==='ν₁'"},{"lookup":"c","from":{"data":{"name":"vars"},"key":"v","fields":["a","b"]},"as":["fx0","fx1"]},{"lookup":"r","from":{"data":{"name":"vars"},"key":"v","fields":["a","b"]},"as":["fy0","fy1"]}],
 "facet":{"column":{"field":"c","title":null,"sort":["μ₁","μ₃","μ₄","ν₁","ν₂","ν₄"],"header":{"labels":false}}},"spacing":20.3,"resolve":{"scale":{"x":"independent"}},
 "spec":{"width":123,"height":123,"layer":[
  {"transform":[{"filter":"datum.k==='A'&&datum.l===0"}],"mark":"area","encoding":{
   "x":{"field":"x","type":"quantitative","scale":{"zero":false,"nice":false},"axis":{"title":null,"tickCount":100,"values":[-11,-10,-9,-8,-7,-6,-5,-4,-3,-2,-1,0,1,2,3,4,5,6,7,8,9,10],"labels":false,"tickSize":{"condition":{"test":"datum.value===0||abs(datum.value)===5","value":7},"value":3.5}}},
   "y":{"field":"lo","type":"quantitative","scale":{"zero":false,"nice":false},"axis":{"title":"ν₁","titleX":-42,"tickCount":100,"values":[-11,-10,-9,-8,-7,-6,-5,-4,-3,-2,-1,0,1,2,3,4,5,6,7,8,9,10],"labelExpr":"datum.value===0||abs(datum.value)===5?''+datum.value:''","labelFontSize":{"condition":{"test":"datum.value===0||abs(datum.value)===5","value":16},"value":0},"tickSize":{"condition":{"test":"datum.value===0||abs(datum.value)===5","value":7},"value":3.5}}},
   "y2":{"field":"hi"},"color":{"field":"l","type":"nominal"}}},
  {"transform":[{"filter":"datum.k==='R'&&datum.l===0"}],"mark":{"type":"rect","cornerRadius":6},"encoding":{"x":{"field":"x0","type":"quantitative"},"x2":{"field":"x1"},"y":{"field":"y0","type":"quantitative"},"y2":{"field":"y1"},"color":{"field":"l","type":"nominal"}}},
  {"transform":[{"filter":"datum.k==='A'&&datum.l===1"}],"mark":"area","encoding":{"x":{"field":"x","type":"quantitative"},"y":{"field":"lo","type":"quantitative"},"y2":{"field":"hi"},"color":{"field":"l","type":"nominal"}}},
  {"transform":[{"filter":"datum.k==='A'&&datum.l===2"}],"mark":"area","encoding":{"x":{"field":"x","type":"quantitative"},"y":{"field":"lo","type":"quantitative"},"y2":{"field":"hi"},"color":{"field":"l","type":"nominal"}}},
  {"transform":[{"filter":"datum.k==='R'&&datum.l>0"}],"mark":{"type":"rect","cornerRadius":4},"encoding":{"x":{"field":"x0","type":"quantitative"},"x2":{"field":"x1"},"y":{"field":"y0","type":"quantitative"},"y2":{"field":"y1"},"color":{"field":"l","type":"nominal"}}},
  {"transform":[{"aggregate":[{"op":"count","as":"n"}],"groupby":["c","fx0","fx1","fy0","fy1"]}],"mark":{"type":"rect","filled":false,"stroke":"#000","strokeWidth":1.2,"fillOpacity":0},"encoding":{"x":{"field":"fx0","type":"quantitative","scale":{"zero":false,"nice":false}},"x2":{"field":"fx1"},"y":{"field":"fy0","type":"quantitative","scale":{"zero":false,"nice":false}},"y2":{"field":"fy1"}}}
 ]}},
{"data":{"name":"d"},"transform":[{"filter":"datum.r==='ν₂'"},{"lookup":"c","from":{"data":{"name":"vars"},"key":"v","fields":["a","b"]},"as":["fx0","fx1"]},{"lookup":"r","from":{"data":{"name":"vars"},"key":"v","fields":["a","b"]},"as":["fy0","fy1"]}],
 "facet":{"column":{"field":"c","title":null,"sort":["μ₁","μ₃","μ₄","ν₁","ν₂","ν₄"],"header":{"labels":false}}},"spacing":20.3,"resolve":{"scale":{"x":"independent"}},
 "spec":{"width":123,"height":123,"layer":[
  {"transform":[{"filter":"datum.k==='A'&&datum.l===0"}],"mark":"area","encoding":{
   "x":{"field":"x","type":"quantitative","scale":{"zero":false,"nice":false},"axis":{"title":null,"tickCount":100,"values":[-11,-10,-9,-8,-7,-6,-5,-4,-3,-2,-1,0,1,2,3,4,5,6,7,8,9,10],"labels":false,"tickSize":{"condition":{"test":"datum.value===0||abs(datum.value)===5","value":7},"value":3.5}}},
   "y":{"field":"lo","type":"quantitative","scale":{"zero":false,"nice":false},"axis":{"title":"ν₂","titleX":-42,"tickCount":100,"values":[-11,-10,-9,-8,-7,-6,-5,-4,-3,-2,-1,0,1,2,3,4,5,6,7,8,9,10],"labelExpr":"datum.value===0||abs(datum.value)===5?''+datum.value:''","labelFontSize":{"condition":{"test":"datum.value===0||abs(datum.value)===5","value":16},"value":0},"tickSize":{"condition":{"test":"datum.value===0||abs(datum.value)===5","value":7},"value":3.5}}},
   "y2":{"field":"hi"},"color":{"field":"l","type":"nominal"}}},
  {"transform":[{"filter":"datum.k==='R'&&datum.l===0"}],"mark":{"type":"rect","cornerRadius":6},"encoding":{"x":{"field":"x0","type":"quantitative"},"x2":{"field":"x1"},"y":{"field":"y0","type":"quantitative"},"y2":{"field":"y1"},"color":{"field":"l","type":"nominal"}}},
  {"transform":[{"filter":"datum.k==='A'&&datum.l===1"}],"mark":"area","encoding":{"x":{"field":"x","type":"quantitative"},"y":{"field":"lo","type":"quantitative"},"y2":{"field":"hi"},"color":{"field":"l","type":"nominal"}}},
  {"transform":[{"filter":"datum.k==='A'&&datum.l===2"}],"mark":"area","encoding":{"x":{"field":"x","type":"quantitative"},"y":{"field":"lo","type":"quantitative"},"y2":{"field":"hi"},"color":{"field":"l","type":"nominal"}}},
  {"transform":[{"filter":"datum.k==='R'&&datum.l>0"}],"mark":{"type":"rect","cornerRadius":4},"encoding":{"x":{"field":"x0","type":"quantitative"},"x2":{"field":"x1"},"y":{"field":"y0","type":"quantitative"},"y2":{"field":"y1"},"color":{"field":"l","type":"nominal"}}},
  {"transform":[{"aggregate":[{"op":"count","as":"n"}],"groupby":["c","fx0","fx1","fy0","fy1"]}],"mark":{"type":"rect","filled":false,"stroke":"#000","strokeWidth":1.2,"fillOpacity":0},"encoding":{"x":{"field":"fx0","type":"quantitative","scale":{"zero":false,"nice":false}},"x2":{"field":"fx1"},"y":{"field":"fy0","type":"quantitative","scale":{"zero":false,"nice":false}},"y2":{"field":"fy1"}}}
 ]}},
{"data":{"name":"d"},"transform":[{"filter":"datum.r==='ν₄'"},{"lookup":"c","from":{"data":{"name":"vars"},"key":"v","fields":["a","b"]},"as":["fx0","fx1"]},{"lookup":"r","from":{"data":{"name":"vars"},"key":"v","fields":["a","b"]},"as":["fy0","fy1"]}],
 "facet":{"column":{"field":"c","title":null,"sort":["μ₁","μ₃","μ₄","ν₁","ν₂","ν₄"],"header":{"labels":false}}},"spacing":20.3,"resolve":{"scale":{"x":"independent"}},
 "spec":{"width":123,"height":123,"layer":[
  {"transform":[{"filter":"datum.k==='A'&&datum.l===0"}],"mark":"area","encoding":{
   "x":{"field":"x","type":"quantitative","scale":{"zero":false,"nice":false},"axis":{"title":null,"tickCount":100,"values":[-11,-10,-9,-8,-7,-6,-5,-4,-3,-2,-1,0,1,2,3,4,5,6,7,8,9,10],"labels":false,"tickSize":{"condition":{"test":"datum.value===0||abs(datum.value)===5","value":7},"value":3.5}}},
   "y":{"field":"lo","type":"quantitative","scale":{"zero":false,"nice":false},"axis":{"title":"ν₄","titleX":-42,"tickCount":100,"values":[-11,-10,-9,-8,-7,-6,-5,-4,-3,-2,-1,0,1,2,3,4,5,6,7,8,9,10],"labelExpr":"datum.value===0||abs(datum.value)===5?''+datum.value:''","labelFontSize":{"condition":{"test":"datum.value===0||abs(datum.value)===5","value":16},"value":0},"tickSize":{"condition":{"test":"datum.value===0||abs(datum.value)===5","value":7},"value":3.5}}},
   "y2":{"field":"hi"},"color":{"field":"l","type":"nominal"}}},
  {"transform":[{"filter":"datum.k==='R'&&datum.l===0"}],"mark":{"type":"rect","cornerRadius":6},"encoding":{"x":{"field":"x0","type":"quantitative"},"x2":{"field":"x1"},"y":{"field":"y0","type":"quantitative"},"y2":{"field":"y1"},"color":{"field":"l","type":"nominal"}}},
  {"transform":[{"filter":"datum.k==='A'&&datum.l===1"}],"mark":"area","encoding":{"x":{"field":"x","type":"quantitative"},"y":{"field":"lo","type":"quantitative"},"y2":{"field":"hi"},"color":{"field":"l","type":"nominal"}}},
  {"transform":[{"filter":"datum.k==='A'&&datum.l===2"}],"mark":"area","encoding":{"x":{"field":"x","type":"quantitative"},"y":{"field":"lo","type":"quantitative"},"y2":{"field":"hi"},"color":{"field":"l","type":"nominal"}}},
  {"transform":[{"filter":"datum.k==='R'&&datum.l>0"}],"mark":{"type":"rect","cornerRadius":4},"encoding":{"x":{"field":"x0","type":"quantitative"},"x2":{"field":"x1"},"y":{"field":"y0","type":"quantitative"},"y2":{"field":"y1"},"color":{"field":"l","type":"nominal"}}},
  {"transform":[{"aggregate":[{"op":"count","as":"n"}],"groupby":["c","fx0","fx1","fy0","fy1"]}],"mark":{"type":"rect","filled":false,"stroke":"#000","strokeWidth":1.2,"fillOpacity":0},"encoding":{"x":{"field":"fx0","type":"quantitative","scale":{"zero":false,"nice":false}},"x2":{"field":"fx1"},"y":{"field":"fy0","type":"quantitative","scale":{"zero":false,"nice":false}},"y2":{"field":"fy1"}}}
 ]}},
{"data":{"name":"d"},"transform":[{"filter":"datum.r==='λ₁'"},{"lookup":"c","from":{"data":{"name":"vars"},"key":"v","fields":["a","b"]},"as":["fx0","fx1"]},{"lookup":"r","from":{"data":{"name":"vars"},"key":"v","fields":["a","b"]},"as":["fy0","fy1"]}],
 "facet":{"column":{"field":"c","title":null,"sort":["μ₁","μ₃","μ₄","ν₁","ν₂","ν₄"],"header":{"labels":false}}},"spacing":20.3,"resolve":{"scale":{"x":"independent"}},
 "spec":{"width":123,"height":123,"layer":[
  {"transform":[{"filter":"datum.k==='A'&&datum.l===0"}],"mark":"area","encoding":{
   "x":{"field":"x","type":"quantitative","scale":{"zero":false,"nice":false},"axis":{"title":null,"tickCount":100,"values":[-11,-10,-9,-8,-7,-6,-5,-4,-3,-2,-1,0,1,2,3,4,5,6,7,8,9,10],"labels":false,"tickSize":{"condition":{"test":"datum.value===0||abs(datum.value)===5","value":7},"value":3.5}}},
   "y":{"field":"lo","type":"quantitative","scale":{"zero":false,"nice":false},"axis":{"title":"λ₁","titleX":-42,"tickCount":100,"values":[0,1,2,3,4],"labelExpr":"datum.value%2===0?''+datum.value:''","labelFontSize":{"condition":{"test":"datum.value%2===0","value":16},"value":0},"tickSize":{"condition":{"test":"datum.value%2===0","value":7},"value":3.5}}},
   "y2":{"field":"hi"},"color":{"field":"l","type":"nominal"}}},
  {"transform":[{"filter":"datum.k==='R'&&datum.l===0"}],"mark":{"type":"rect","cornerRadiusTopLeft":6,"cornerRadiusTopRight":6},"encoding":{"x":{"field":"x0","type":"quantitative"},"x2":{"field":"x1"},"y":{"field":"y0","type":"quantitative"},"y2":{"field":"y1"},"color":{"field":"l","type":"nominal"}}},
  {"transform":[{"filter":"datum.k==='A'&&datum.l===1"}],"mark":"area","encoding":{"x":{"field":"x","type":"quantitative"},"y":{"field":"lo","type":"quantitative"},"y2":{"field":"hi"},"color":{"field":"l","type":"nominal"}}},
  {"transform":[{"filter":"datum.k==='A'&&datum.l===2"}],"mark":"area","encoding":{"x":{"field":"x","type":"quantitative"},"y":{"field":"lo","type":"quantitative"},"y2":{"field":"hi"},"color":{"field":"l","type":"nominal"}}},
  {"transform":[{"filter":"datum.k==='R'&&datum.l>0"}],"mark":{"type":"rect","cornerRadiusTopLeft":4,"cornerRadiusTopRight":4},"encoding":{"x":{"field":"x0","type":"quantitative"},"x2":{"field":"x1"},"y":{"field":"y0","type":"quantitative"},"y2":{"field":"y1"},"color":{"field":"l","type":"nominal"}}},
  {"transform":[{"aggregate":[{"op":"count","as":"n"}],"groupby":["c","fx0","fx1","fy0","fy1"]}],"mark":{"type":"rect","filled":false,"stroke":"#000","strokeWidth":1.2,"fillOpacity":0},"encoding":{"x":{"field":"fx0","type":"quantitative","scale":{"zero":false,"nice":false}},"x2":{"field":"fx1"},"y":{"field":"fy0","type":"quantitative","scale":{"zero":false,"nice":false}},"y2":{"field":"fy1"}}}
 ]}},
{"data":{"name":"d"},"transform":[{"filter":"datum.r==='λ₂'"},{"lookup":"c","from":{"data":{"name":"vars"},"key":"v","fields":["a","b"]},"as":["fx0","fx1"]},{"lookup":"r","from":{"data":{"name":"vars"},"key":"v","fields":["a","b"]},"as":["fy0","fy1"]}],
 "facet":{"column":{"field":"c","title":null,"sort":["μ₁","μ₃","μ₄","ν₁","ν₂","ν₄"],"header":{"labels":false}}},"spacing":20.3,"resolve":{"scale":{"x":"independent"}},
 "spec":{"width":123,"height":123,"layer":[
  {"transform":[{"filter":"datum.k==='A'&&datum.l===0"}],"mark":"area","encoding":{
   "x":{"field":"x","type":"quantitative","scale":{"zero":false,"nice":false},"axis":{"title":null,"tickCount":100,"values":[-11,-10,-9,-8,-7,-6,-5,-4,-3,-2,-1,0,1,2,3,4,5,6,7,8,9,10],"labels":false,"tickSize":{"condition":{"test":"datum.value===0||abs(datum.value)===5","value":7},"value":3.5}}},
   "y":{"field":"lo","type":"quantitative","scale":{"zero":false,"nice":false},"axis":{"title":"λ₂","titleX":-42,"tickCount":100,"values":[0,1,2,3,4],"labelExpr":"datum.value%2===0?''+datum.value:''","labelFontSize":{"condition":{"test":"datum.value%2===0","value":16},"value":0},"tickSize":{"condition":{"test":"datum.value%2===0","value":7},"value":3.5}}},
   "y2":{"field":"hi"},"color":{"field":"l","type":"nominal"}}},
  {"transform":[{"filter":"datum.k==='R'&&datum.l===0"}],"mark":{"type":"rect","cornerRadiusTopLeft":6,"cornerRadiusTopRight":6},"encoding":{"x":{"field":"x0","type":"quantitative"},"x2":{"field":"x1"},"y":{"field":"y0","type":"quantitative"},"y2":{"field":"y1"},"color":{"field":"l","type":"nominal"}}},
  {"transform":[{"filter":"datum.k==='A'&&datum.l===1"}],"mark":"area","encoding":{"x":{"field":"x","type":"quantitative"},"y":{"field":"lo","type":"quantitative"},"y2":{"field":"hi"},"color":{"field":"l","type":"nominal"}}},
  {"transform":[{"filter":"datum.k==='A'&&datum.l===2"}],"mark":"area","encoding":{"x":{"field":"x","type":"quantitative"},"y":{"field":"lo","type":"quantitative"},"y2":{"field":"hi"},"color":{"field":"l","type":"nominal"}}},
  {"transform":[{"filter":"datum.k==='R'&&datum.l>0"}],"mark":{"type":"rect","cornerRadiusTopLeft":4,"cornerRadiusTopRight":4},"encoding":{"x":{"field":"x0","type":"quantitative"},"x2":{"field":"x1"},"y":{"field":"y0","type":"quantitative"},"y2":{"field":"y1"},"color":{"field":"l","type":"nominal"}}},
  {"transform":[{"aggregate":[{"op":"count","as":"n"}],"groupby":["c","fx0","fx1","fy0","fy1"]}],"mark":{"type":"rect","filled":false,"stroke":"#000","strokeWidth":1.2,"fillOpacity":0},"encoding":{"x":{"field":"fx0","type":"quantitative","scale":{"zero":false,"nice":false}},"x2":{"field":"fx1"},"y":{"field":"fy0","type":"quantitative","scale":{"zero":false,"nice":false}},"y2":{"field":"fy1"}}}
 ]}},
{"data":{"name":"d"},"transform":[{"filter":"datum.r==='λ₃'"},{"lookup":"c","from":{"data":{"name":"vars"},"key":"v","fields":["a","b"]},"as":["fx0","fx1"]},{"lookup":"r","from":{"data":{"name":"vars"},"key":"v","fields":["a","b"]},"as":["fy0","fy1"]}],
 "facet":{"column":{"field":"c","title":null,"sort":["μ₁","μ₃","μ₄","ν₁","ν₂","ν₄"],"header":{"labels":false}}},"spacing":20.3,"resolve":{"scale":{"x":"independent"}},
 "spec":{"width":123,"height":123,"layer":[
  {"transform":[{"filter":"datum.k==='A'&&datum.l===0"}],"mark":"area","encoding":{
   "x":{"field":"x","type":"quantitative","scale":{"zero":false,"nice":false},"axis":{"title":null,"tickCount":100,"values":[-11,-10,-9,-8,-7,-6,-5,-4,-3,-2,-1,0,1,2,3,4,5,6,7,8,9,10],"labels":false,"tickSize":{"condition":{"test":"datum.value===0||abs(datum.value)===5","value":7},"value":3.5}}},
   "y":{"field":"lo","type":"quantitative","scale":{"zero":false,"nice":false},"axis":{"title":"λ₃","titleX":-42,"tickCount":100,"values":[-11,-10,-9,-8,-7,-6,-5,-4,-3,-2,-1,0,1,2,3,4,5,6,7,8,9,10],"labelExpr":"datum.value===0||abs(datum.value)===5?''+datum.value:''","labelFontSize":{"condition":{"test":"datum.value===0||abs(datum.value)===5","value":16},"value":0},"tickSize":{"condition":{"test":"datum.value===0||abs(datum.value)===5","value":7},"value":3.5}}},
   "y2":{"field":"hi"},"color":{"field":"l","type":"nominal"}}},
  {"transform":[{"filter":"datum.k==='R'&&datum.l===0"}],"mark":{"type":"rect","cornerRadius":6},"encoding":{"x":{"field":"x0","type":"quantitative"},"x2":{"field":"x1"},"y":{"field":"y0","type":"quantitative"},"y2":{"field":"y1"},"color":{"field":"l","type":"nominal"}}},
  {"transform":[{"filter":"datum.k==='A'&&datum.l===1"}],"mark":"area","encoding":{"x":{"field":"x","type":"quantitative"},"y":{"field":"lo","type":"quantitative"},"y2":{"field":"hi"},"color":{"field":"l","type":"nominal"}}},
  {"transform":[{"filter":"datum.k==='A'&&datum.l===2"}],"mark":"area","encoding":{"x":{"field":"x","type":"quantitative"},"y":{"field":"lo","type":"quantitative"},"y2":{"field":"hi"},"color":{"field":"l","type":"nominal"}}},
  {"transform":[{"filter":"datum.k==='R'&&datum.l>0"}],"mark":{"type":"rect","cornerRadius":4},"encoding":{"x":{"field":"x0","type":"quantitative"},"x2":{"field":"x1"},"y":{"field":"y0","type":"quantitative"},"y2":{"field":"y1"},"color":{"field":"l","type":"nominal"}}},
  {"transform":[{"aggregate":[{"op":"count","as":"n"}],"groupby":["c","fx0","fx1","fy0","fy1"]}],"mark":{"type":"rect","filled":false,"stroke":"#000","strokeWidth":1.2,"fillOpacity":0},"encoding":{"x":{"field":"fx0","type":"quantitative","scale":{"zero":false,"nice":false}},"x2":{"field":"fx1"},"y":{"field":"fy0","type":"quantitative","scale":{"zero":false,"nice":false}},"y2":{"field":"fy1"}}}
 ]}},
{"data":{"name":"d"},"transform":[{"filter":"datum.r==='λ₄'"},{"lookup":"c","from":{"data":{"name":"vars"},"key":"v","fields":["a","b"]},"as":["fx0","fx1"]},{"lookup":"r","from":{"data":{"name":"vars"},"key":"v","fields":["a","b"]},"as":["fy0","fy1"]}],
 "facet":{"column":{"field":"c","title":null,"sort":["μ₁","μ₃","μ₄","ν₁","ν₂","ν₄"],"header":{"labels":false}}},"spacing":20.3,"resolve":{"scale":{"x":"independent"}},
 "spec":{"width":123,"height":123,"layer":[
  {"transform":[{"filter":"datum.k==='A'&&datum.l===0"}],"mark":"area","encoding":{
   "x":{"field":"x","type":"quantitative","scale":{"zero":false,"nice":false},"axis":{"title":null,"tickCount":100,"values":[-11,-10,-9,-8,-7,-6,-5,-4,-3,-2,-1,0,1,2,3,4,5,6,7,8,9,10],"labels":false,"tickSize":{"condition":{"test":"datum.value===0||abs(datum.value)===5","value":7},"value":3.5}}},
   "y":{"field":"lo","type":"quantitative","scale":{"zero":false,"nice":false},"axis":{"title":"λ₄","titleX":-42,"labelFlush":true,"tickCount":100,"values":[-11,-10,-9,-8,-7,-6,-5,-4,-3,-2,-1,0,1,2,3,4,5,6,7,8,9,10],"labelExpr":"datum.value===0||abs(datum.value)===5?''+datum.value:''","labelFontSize":{"condition":{"test":"datum.value===0||abs(datum.value)===5","value":16},"value":0},"tickSize":{"condition":{"test":"datum.value===0||abs(datum.value)===5","value":7},"value":3.5}}},
   "y2":{"field":"hi"},"color":{"field":"l","type":"nominal"}}},
  {"transform":[{"filter":"datum.k==='R'&&datum.l===0"}],"mark":{"type":"rect","cornerRadius":6},"encoding":{"x":{"field":"x0","type":"quantitative"},"x2":{"field":"x1"},"y":{"field":"y0","type":"quantitative"},"y2":{"field":"y1"},"color":{"field":"l","type":"nominal"}}},
  {"transform":[{"filter":"datum.k==='A'&&datum.l===1"}],"mark":"area","encoding":{"x":{"field":"x","type":"quantitative"},"y":{"field":"lo","type":"quantitative"},"y2":{"field":"hi"},"color":{"field":"l","type":"nominal"}}},
  {"transform":[{"filter":"datum.k==='A'&&datum.l===2"}],"mark":"area","encoding":{"x":{"field":"x","type":"quantitative"},"y":{"field":"lo","type":"quantitative"},"y2":{"field":"hi"},"color":{"field":"l","type":"nominal"}}},
  {"transform":[{"filter":"datum.k==='R'&&datum.l>0"}],"mark":{"type":"rect","cornerRadius":4},"encoding":{"x":{"field":"x0","type":"quantitative"},"x2":{"field":"x1"},"y":{"field":"y0","type":"quantitative"},"y2":{"field":"y1"},"color":{"field":"l","type":"nominal"}}},
  {"transform":[{"aggregate":[{"op":"count","as":"n"}],"groupby":["c","fx0","fx1","fy0","fy1"]}],"mark":{"type":"rect","filled":false,"stroke":"#000","strokeWidth":1.2,"fillOpacity":0},"encoding":{"x":{"field":"fx0","type":"quantitative","scale":{"zero":false,"nice":false}},"x2":{"field":"fx1"},"y":{"field":"fy0","type":"quantitative","scale":{"zero":false,"nice":false}},"y2":{"field":"fy1"}}}
 ]}},
{"data":{"name":"d"},"transform":[{"filter":"datum.r==='ω₁'"},{"lookup":"c","from":{"data":{"name":"vars"},"key":"v","fields":["a","b"]},"as":["fx0","fx1"]},{"lookup":"r","from":{"data":{"name":"vars"},"key":"v","fields":["a","b"]},"as":["fy0","fy1"]}],
 "facet":{"column":{"field":"c","title":null,"sort":["μ₁","μ₃","μ₄","ν₁","ν₂","ν₄"],"header":{"labels":false}}},"spacing":20.3,"resolve":{"scale":{"x":"independent"}},
 "spec":{"width":123,"height":123,"layer":[
  {"transform":[{"filter":"datum.k==='A'&&datum.l===0"}],"mark":"area","encoding":{
   "x":{"field":"x","type":"quantitative","scale":{"zero":false,"nice":false},"axis":{"title":null,"tickCount":100,"values":[-11,-10,-9,-8,-7,-6,-5,-4,-3,-2,-1,0,1,2,3,4,5,6,7,8,9,10],"labels":false,"tickSize":{"condition":{"test":"datum.value===0||abs(datum.value)===5","value":7},"value":3.5}}},
   "y":{"field":"lo","type":"quantitative","scale":{"zero":false,"nice":false},"axis":{"title":"ω₁","titleX":-42,"tickCount":100,"values":[-11,-10,-9,-8,-7,-6,-5,-4,-3,-2,-1,0,1,2,3,4,5,6,7,8,9,10],"labelExpr":"datum.value===0||abs(datum.value)===5?''+datum.value:''","labelFontSize":{"condition":{"test":"datum.value===0||abs(datum.value)===5","value":16},"value":0},"tickSize":{"condition":{"test":"datum.value===0||abs(datum.value)===5","value":7},"value":3.5}}},
   "y2":{"field":"hi"},"color":{"field":"l","type":"nominal"}}},
  {"transform":[{"filter":"datum.k==='R'&&datum.l===0"}],"mark":{"type":"rect","cornerRadius":6},"encoding":{"x":{"field":"x0","type":"quantitative"},"x2":{"field":"x1"},"y":{"field":"y0","type":"quantitative"},"y2":{"field":"y1"},"color":{"field":"l","type":"nominal"}}},
  {"transform":[{"filter":"datum.k==='A'&&datum.l===1"}],"mark":"area","encoding":{"x":{"field":"x","type":"quantitative"},"y":{"field":"lo","type":"quantitative"},"y2":{"field":"hi"},"color":{"field":"l","type":"nominal"}}},
  {"transform":[{"filter":"datum.k==='A'&&datum.l===2"}],"mark":"area","encoding":{"x":{"field":"x","type":"quantitative"},"y":{"field":"lo","type":"quantitative"},"y2":{"field":"hi"},"color":{"field":"l","type":"nominal"}}},
  {"transform":[{"filter":"datum.k==='R'&&datum.l>0"}],"mark":{"type":"rect","cornerRadius":4},"encoding":{"x":{"field":"x0","type":"quantitative"},"x2":{"field":"x1"},"y":{"field":"y0","type":"quantitative"},"y2":{"field":"y1"},"color":{"field":"l","type":"nominal"}}},
  {"transform":[{"aggregate":[{"op":"count","as":"n"}],"groupby":["c","fx0","fx1","fy0","fy1"]}],"mark":{"type":"rect","filled":false,"stroke":"#000","strokeWidth":1.2,"fillOpacity":0},"encoding":{"x":{"field":"fx0","type":"quantitative","scale":{"zero":false,"nice":false}},"x2":{"field":"fx1"},"y":{"field":"fy0","type":"quantitative","scale":{"zero":false,"nice":false}},"y2":{"field":"fy1"}}}
 ]}},
{"data":{"name":"d"},"transform":[{"filter":"datum.r==='ω₂'"},{"lookup":"c","from":{"data":{"name":"vars"},"key":"v","fields":["a","b"]},"as":["fx0","fx1"]},{"lookup":"r","from":{"data":{"name":"vars"},"key":"v","fields":["a","b"]},"as":["fy0","fy1"]}],
 "facet":{"column":{"field":"c","title":null,"sort":["μ₁","μ₃","μ₄","ν₁","ν₂","ν₄"],"header":{"labelOrient":"bottom","labelPadding":8}}},"spacing":20.3,"resolve":{"scale":{"x":"independent"}},
 "spec":{"width":123,"height":123,"layer":[
  {"transform":[{"filter":"datum.k==='A'&&datum.l===0"}],"mark":"area","encoding":{
   "x":{"field":"x","type":"quantitative","scale":{"zero":false,"nice":false},"axis":{"title":null,"tickCount":100,"values":[-11,-10,-9,-8,-7,-6,-5,-4,-3,-2,-1,0,1,2,3,4,5,6,7,8,9,10],"labelExpr":"datum.value===0||abs(datum.value)===5?''+datum.value:''","labelFontSize":{"condition":{"test":"datum.value===0||abs(datum.value)===5","value":16},"value":0},"tickSize":{"condition":{"test":"datum.value===0||abs(datum.value)===5","value":7},"value":3.5}}},
   "y":{"field":"lo","type":"quantitative","scale":{"zero":false,"nice":false},"axis":{"title":"ω₂","titleX":-42,"tickCount":100,"values":[-11,-10,-9,-8,-7,-6,-5,-4,-3,-2,-1,0,1,2,3,4,5,6,7,8,9,10],"labelExpr":"datum.value===0||abs(datum.value)===5?''+datum.value:''","labelFontSize":{"condition":{"test":"datum.value===0||abs(datum.value)===5","value":16},"value":0},"tickSize":{"condition":{"test":"datum.value===0||abs(datum.value)===5","value":7},"value":3.5}}},
   "y2":{"field":"hi"},"color":{"field":"l","type":"nominal"}}},
  {"transform":[{"filter":"datum.k==='R'&&datum.l===0"}],"mark":{"type":"rect","cornerRadius":6},"encoding":{"x":{"field":"x0","type":"quantitative"},"x2":{"field":"x1"},"y":{"field":"y0","type":"quantitative"},"y2":{"field":"y1"},"color":{"field":"l","type":"nominal"}}},
  {"transform":[{"filter":"datum.k==='A'&&datum.l===1"}],"mark":"area","encoding":{"x":{"field":"x","type":"quantitative"},"y":{"field":"lo","type":"quantitative"},"y2":{"field":"hi"},"color":{"field":"l","type":"nominal"}}},
  {"transform":[{"filter":"datum.k==='A'&&datum.l===2"}],"mark":"area","encoding":{"x":{"field":"x","type":"quantitative"},"y":{"field":"lo","type":"quantitative"},"y2":{"field":"hi"},"color":{"field":"l","type":"nominal"}}},
  {"transform":[{"filter":"datum.k==='R'&&datum.l>0"}],"mark":{"type":"rect","cornerRadius":4},"encoding":{"x":{"field":"x0","type":"quantitative"},"x2":{"field":"x1"},"y":{"field":"y0","type":"quantitative"},"y2":{"field":"y1"},"color":{"field":"l","type":"nominal"}}},
  {"transform":[{"aggregate":[{"op":"count","as":"n"}],"groupby":["c","fx0","fx1","fy0","fy1"]}],"mark":{"type":"rect","filled":false,"stroke":"#000","strokeWidth":1.2,"fillOpacity":0},"encoding":{"x":{"field":"fx0","type":"quantitative","scale":{"zero":false,"nice":false}},"x2":{"field":"fx1"},"y":{"field":"fy0","type":"quantitative","scale":{"zero":false,"nice":false}},"y2":{"field":"fy1"}}}
 ]}}
]
}
